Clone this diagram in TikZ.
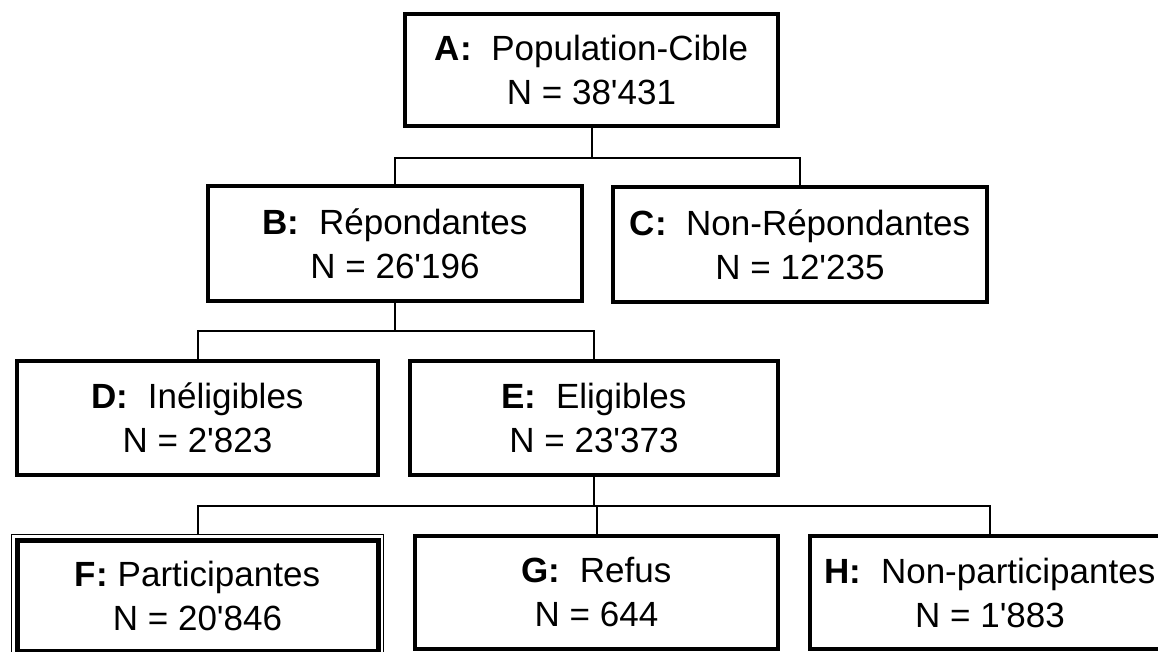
\documentclass[tikz,border=0pt]{standalone}
\usepackage{fontspec}
\setmainfont{Liberation Sans}
\usetikzlibrary{fit}
\newcommand{\ap}{\textquotesingle}
\newcommand{\gap}{\ \ }

\begin{document}
\begin{tikzpicture}[x=1pt,y=-1pt]

\tikzset{stage/.style={draw, line width=4.5, align=center, minimum height=114, inner sep=0pt, outer sep=0pt,
  font=\fontsize{35}{44}\selectfont},
%thin lines between the boxes
link/.style={line width=2}}

\useasboundingbox (0,0) rectangle (1158,652);
\clip (0,0) rectangle (1158,652);

\node [stage,minimum width=373,minimum height=112] (A) at (591.5,70) {\textbf{A:}\gap Population-Cible\\N = 38\ap 431};
\node [stage,minimum width=374,minimum height=115] (B) at (395,243.5) {\textbf{B:}\gap R\'epondantes\\N = 26\ap 196};
\node [stage,minimum width=374,minimum height=115] (C) at (800,244.5) {\textbf{C:}\gap Non-R\'epondantes\\N = 12\ap 235};

\node [stage,minimum width=361] (D) at (197.5,418) {\textbf{D:}\gap In\'eligibles\\N = 2\ap 823};
\node [stage,minimum width=368] (E) at (594,418) {\textbf{E:}\gap Eligibles\\N = 23\ap 373};

\node [stage,minimum width=361,minimum height=111,line width=5] (F) at (197.5,595.5) {\textbf{F:} Participantes\\N = 20\ap 846};
\node [draw,line width=1.4,fit=(F),inner sep=5.5pt,outer sep=0pt] (Fout) {};
\node [stage,minimum width=363,minimum height=113] (G) at (596.5,592.5) {\textbf{G:}\gap Refus\\N = 644};
\node [stage,minimum width=360,minimum height=113] (H) at (990,592.5) {\textbf{H:}\gap Non-participantes\\N = 1\ap 883};

\draw [link] (A.south) -- ++(0,32) coordinate (jA);
\draw [link] (B.north) |- (jA) -| (C.north);

\draw [link] (B.south) -- ++(0,30) coordinate (jB);
\draw [link] (D.north) |- (jB) -| (E.north);

\draw [link] (E.south) -- ++(0,31) coordinate (jE);
\draw [link] (Fout.north) |- (jE) -| (H.north);
\draw [link] (G.north) -- (G.north |- jE);

\end{tikzpicture}
\end{document}
